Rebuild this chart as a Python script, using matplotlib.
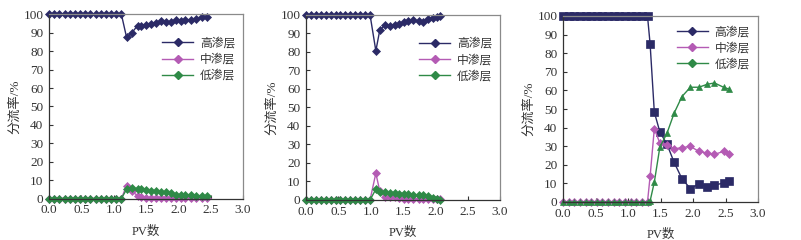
import matplotlib
matplotlib.use("Agg")
import matplotlib.pyplot as plt
from matplotlib.lines import Line2D

plt.rcParams["font.family"] = ["Liberation Serif", "Noto Sans CJK SC"]
plt.rcParams["axes.unicode_minus"] = False

# ---- data ----
labels = ["高渗层", "中渗层", "低渗层"]
colors = ["#2b2a66", "#b45bb4", "#2f8a47"]

x1 = [0, 0.08, 0.16, 0.24, 0.32, 0.40, 0.48, 0.56, 0.64, 0.72, 0.80, 0.88, 0.96, 1.04, 1.12,
      1.20, 1.28, 1.37, 1.43, 1.50, 1.57, 1.65, 1.73, 1.81, 1.88, 1.96, 2.04, 2.11, 2.19, 2.28, 2.37, 2.45]
high1 = [100] * 15 + [87.5, 90, 94, 94, 94.5, 95, 95.5, 96.5, 96, 96, 97, 96.5, 97, 97, 97.5, 98.5, 98.5]
mid1 = [0] * 15 + [7, 4, 1.5, 1, 0.5, 0.5, 0.5, 0.5, 0.5, 0.5, 0.5, 0.5, 0.5, 0.5, 0.5, 0.5, 0.3]
low1 = [0] * 15 + [5, 5.5, 5, 5, 4.5, 4, 4, 3.5, 3.5, 3, 2, 2, 2, 2, 1.5, 1.5, 1.5]

x2 = [0, 0.076, 0.152, 0.228, 0.305, 0.381, 0.457, 0.533, 0.609, 0.685, 0.762, 0.838, 0.914, 0.99,
      1.08, 1.14, 1.22, 1.30, 1.37, 1.44, 1.51, 1.58, 1.66, 1.74, 1.81, 1.89, 1.96, 2.02, 2.07]
high2 = [100] * 14 + [80.5, 91.5, 94.5, 94, 94.5, 95, 96, 96.5, 97, 96.5, 96, 97.5, 98, 99, 99.5]
mid2 = [0] * 14 + [14.4, 5, 1.5, 1.5, 1.5, 1, 0.5, 0.5, 0.5, 0.5, 0.5, 0.5, 0.5, 0.5, 0.3]
low2 = [0] * 14 + [5.8, 4.5, 4.5, 4, 4, 3.5, 3.5, 3, 2.5, 2.5, 2.5, 2, 1, 0.5, 0]

x3 = [0, 0.087, 0.173, 0.26, 0.347, 0.433, 0.52, 0.607, 0.693, 0.78, 0.867, 0.953, 1.04, 1.127, 1.213, 1.30,
      1.34, 1.405, 1.49, 1.60, 1.71, 1.83, 1.96, 2.09, 2.22, 2.33, 2.47, 2.56]
high3 = [100] * 16 + [85, 48.3, 37.7, 31, 21.3, 12.5, 7.2, 9.7, 8.2, 9.1, 10.2, 11.4]
mid3 = [0] * 16 + [13.8, 39.4, 31.7, 30.8, 28.6, 29.2, 29.9, 27.2, 26.3, 25.6, 27.2, 25.8]
low3 = [0] * 16 + [0.5, 10.7, 29.5, 37.0, 47.8, 56.7, 61.7, 61.7, 63.3, 64.0, 61.7, 60.6]

panels = [
    (x1, [high1, mid1, low1], ["D", "D", "D"], [4, 4, 4]),
    (x2, [high2, mid2, low2], ["D", "D", "D"], [4, 4, 4]),
    (x3, [high3, mid3, low3], ["s", "D", "^"], [6, 4, 5]),
]
# axes rectangles in pixels: left, top, right, bottom
rects = [(49, 14.5, 243, 198.5), (306, 14.7, 500, 200), (563, 16, 758, 202)]
legend_anchor = [(0.56, 0.9), (0.56, 0.9), (0.56, 0.97)]

W, H = 801, 240
fig = plt.figure(figsize=(W / 100, H / 100), dpi=100)

for (x, ys, markers, msizes), (l, t, r, b), anchor in zip(panels, rects, legend_anchor):
    ax = fig.add_axes([l / W, (H - b) / H, (r - l) / W, (b - t) / H])
    for y, c, m, ms in zip(ys, colors, markers, msizes):
        ax.plot(x, y, color=c, marker=m, markersize=ms, linewidth=1.0,
                markeredgewidth=0.5, clip_on=False)
    ax.set_xlim(0, 3.0)
    ax.set_ylim(0, 100)
    ax.set_xticks([0, 0.5, 1.0, 1.5, 2.0, 2.5, 3.0])
    ax.set_xticklabels(["0.0", "0.5", "1.0", "1.5", "2.0", "2.5", "3.0"])
    ax.set_yticks(range(0, 101, 10))
    ax.tick_params(direction="in", length=3, width=0.8, labelsize=9.5, pad=4, colors="#333333")
    for s in ["top", "right"]:
        ax.spines[s].set_color("#8a8a8a")
    for s in ["left", "bottom"]:
        ax.spines[s].set_color("#333333")
    for s in ax.spines.values():
        s.set_linewidth(0.9)
    ax.set_xlabel("PV数", fontsize=9, labelpad=7, color="#333333")
    ax.set_ylabel("分流率/%", fontsize=9.5, labelpad=1.5, color="#333333")

    handles = [Line2D([], [], color=c, marker="D", markersize=4, linewidth=1.0) for c in colors]
    ax.legend(handles, labels, loc="upper left", bbox_to_anchor=anchor, frameon=False,
              fontsize=8.5, handlelength=2.6, handletextpad=0.6, labelspacing=0.35,
              borderaxespad=0, labelcolor="#333333")

fig.savefig("out.png", dpi=100)
